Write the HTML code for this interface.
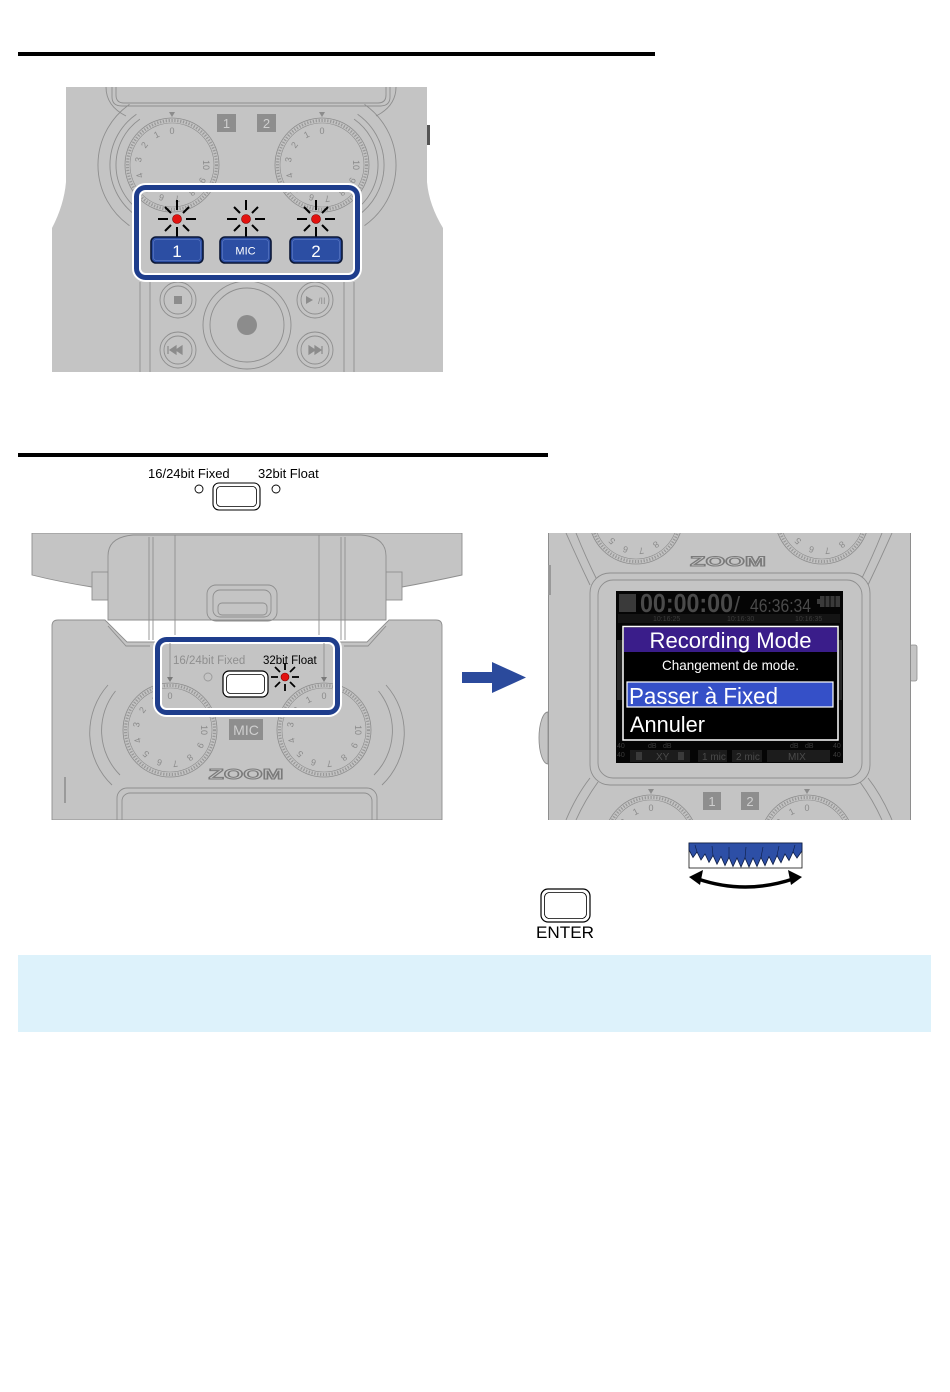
<!DOCTYPE html>
<html><head><meta charset="utf-8"><style>
html,body{margin:0;padding:0;background:#fff;}
svg{display:block;}
text{font-family:"Liberation Sans",Arial,sans-serif;}
</style></head><body>
<svg width="950" height="1392" viewBox="0 0 950 1392" xmlns="http://www.w3.org/2000/svg">
<defs>
<clipPath id="c1"><rect x="40" y="87" width="420" height="285"/></clipPath>
<clipPath id="c2"><rect x="30" y="533" width="440" height="287"/></clipPath>
<clipPath id="c3"><rect x="548" y="533" width="363" height="287"/></clipPath>
</defs>
<rect width="950" height="1392" fill="#fff"/>
<rect x="18" y="52" width="637" height="4" fill="#000"/>

<!-- ===== DEVICE 1 ===== -->
<g clip-path="url(#c1)">
<path d="M66,87 H427 V182 Q429,205 443,228 V372 H52 V228 Q64,205 66,182 Z" fill="#c4c4c4"/>
<g fill="none" stroke="#8e8e8e" stroke-width="0.9">
<path d="M116,87 V95 Q116,103 124,103 H378 Q386,103 386,95 V87"/>
<path d="M112,87 V97 Q112,106 122,106 H380 Q390,106 390,97 V87"/>
<path d="M106,87 Q106,106 126,116"/>
<path d="M396,87 Q396,106 376,116"/>
<path d="M139.9,119.1 A56,56 0 0 0 139.9,210.9"/>
<path d="M136.4,114.2 A62,62 0 0 0 136.4,215.8"/>
<path d="M129.5,104.4 A74,74 0 0 0 129.5,225.6"/>
<path d="M354.1,119.1 A56,56 0 0 1 354.1,210.9"/>
<path d="M357.6,114.2 A62,62 0 0 1 357.6,215.8"/>
<path d="M364.5,104.4 A74,74 0 0 1 364.5,225.6"/>
<line x1="140" y1="282" x2="140" y2="372"/>
<line x1="354" y1="282" x2="354" y2="372"/>
<line x1="150" y1="282" x2="150" y2="372"/>
<line x1="344" y1="282" x2="344" y2="372"/>
</g>
<rect x="427" y="125" width="3" height="20" fill="#555"/>
<!-- ch buttons -->
<rect x="217" y="114" width="19" height="18" fill="#8e8e8e"/>
<text x="226.5" y="128" font-size="13" fill="#cfcfcf" text-anchor="middle">1</text>
<rect x="257" y="114" width="19" height="18" fill="#8e8e8e"/>
<text x="266.5" y="128" font-size="13" fill="#cfcfcf" text-anchor="middle">2</text>

<!-- knobs -->
<g transform="translate(172,165)">
 <circle r="47" fill="#c4c4c4" stroke="#8c8c8c" stroke-width="0.8"/>
 <circle r="44.5" fill="none" stroke="#9a9a9a" stroke-width="3" stroke-dasharray="1.3 1.6"/>
 <circle r="42" fill="#c4c4c4" stroke="#8c8c8c" stroke-width="0.6"/>
 <path d="M-3,-53 H3 L0,-48Z" fill="#8c8c8c"/>
 <g font-size="9" fill="#8a8a8a" text-anchor="middle">
  <text transform="translate(0,-34)" dy="3">0</text>
  <text transform="translate(-15.4,-30.3) rotate(-27)" dy="3">1</text>
  <text transform="translate(-27.5,-20) rotate(-54)" dy="3">2</text>
  <text transform="translate(-33.6,-5.3) rotate(-81)" dy="3">3</text>
  <text transform="translate(-32.3,10.5) rotate(-108)" dy="3">4</text>
  <text transform="translate(-24,24) rotate(-135)" dy="3">5</text>
  <text transform="translate(-10.5,32.3) rotate(-162)" dy="3">6</text>
  <text transform="translate(5.3,33.6) rotate(171)" dy="3">7</text>
  <text transform="translate(20,27.5) rotate(144)" dy="3">8</text>
  <text transform="translate(30.3,15.4) rotate(117)" dy="3">9</text>
  <text transform="translate(34,0) rotate(90)" dy="3">10</text>
 </g>
</g>
<g transform="translate(322,165)">
 <circle r="47" fill="#c4c4c4" stroke="#8c8c8c" stroke-width="0.8"/>
 <circle r="44.5" fill="none" stroke="#9a9a9a" stroke-width="3" stroke-dasharray="1.3 1.6"/>
 <circle r="42" fill="#c4c4c4" stroke="#8c8c8c" stroke-width="0.6"/>
 <path d="M-3,-53 H3 L0,-48Z" fill="#8c8c8c"/>
 <g font-size="9" fill="#8a8a8a" text-anchor="middle">
  <text transform="translate(0,-34)" dy="3">0</text>
  <text transform="translate(-15.4,-30.3) rotate(-27)" dy="3">1</text>
  <text transform="translate(-27.5,-20) rotate(-54)" dy="3">2</text>
  <text transform="translate(-33.6,-5.3) rotate(-81)" dy="3">3</text>
  <text transform="translate(-32.3,10.5) rotate(-108)" dy="3">4</text>
  <text transform="translate(-24,24) rotate(-135)" dy="3">5</text>
  <text transform="translate(-10.5,32.3) rotate(-162)" dy="3">6</text>
  <text transform="translate(5.3,33.6) rotate(171)" dy="3">7</text>
  <text transform="translate(20,27.5) rotate(144)" dy="3">8</text>
  <text transform="translate(30.3,15.4) rotate(117)" dy="3">9</text>
  <text transform="translate(34,0) rotate(90)" dy="3">10</text>
 </g>
</g>

<!-- transport -->
<g fill="none" stroke="#8e8e8e" stroke-width="0.9">
<circle cx="247" cy="325" r="44"/>
<circle cx="247" cy="325" r="37"/>
<circle cx="178" cy="300" r="18"/><circle cx="178" cy="300" r="14"/>
<circle cx="315" cy="300" r="18"/><circle cx="315" cy="300" r="14"/>
<circle cx="178" cy="350" r="18"/><circle cx="178" cy="350" r="14"/>
<circle cx="315" cy="350" r="18"/><circle cx="315" cy="350" r="14"/>
</g>
<circle cx="247" cy="325" r="10" fill="#8c8c8c"/>
<rect x="174" y="296" width="8" height="8" fill="#8c8c8c"/>
<path d="M306,296 L313,300 L306,304Z" fill="#8c8c8c"/>
<text x="318" y="304" font-size="9" fill="#8c8c8c">/II</text>
<path d="M168,346 V354 M170,350 L176,346 V354Z M176,350 L182,346 V354Z" fill="#8c8c8c" stroke="#8c8c8c" stroke-width="1.2"/>
<path d="M309,346 L315,350 L309,354Z M315,346 L321,350 L315,354Z M322,346 V354" fill="#8c8c8c" stroke="#8c8c8c" stroke-width="1.2"/>
</g>

<!-- highlight box 1 -->
<rect x="136.5" y="187.5" width="221" height="90" rx="9" fill="none" stroke="#fff" stroke-width="9"/>
<rect x="136.5" y="187.5" width="221" height="90" rx="9" fill="none" stroke="#1e3d8c" stroke-width="5"/>
<g stroke="#000" stroke-width="2">
 <g transform="translate(177,219)">
  <line x1="0" y1="-9" x2="0" y2="-19"/><line x1="9" y1="0" x2="19" y2="0"/><line x1="-9" y1="0" x2="-19" y2="0"/>
  <line x1="0" y1="8" x2="0" y2="18"/>
  <line x1="6" y1="-6" x2="12" y2="-12"/><line x1="-6" y1="-6" x2="-12" y2="-12"/>
  <line x1="6" y1="6" x2="12" y2="12"/><line x1="-6" y1="6" x2="-12" y2="12"/>
 </g>
 <g transform="translate(246,219)">
  <line x1="0" y1="-9" x2="0" y2="-19"/><line x1="9" y1="0" x2="19" y2="0"/><line x1="-9" y1="0" x2="-19" y2="0"/>
  <line x1="0" y1="8" x2="0" y2="18"/>
  <line x1="6" y1="-6" x2="12" y2="-12"/><line x1="-6" y1="-6" x2="-12" y2="-12"/>
  <line x1="6" y1="6" x2="12" y2="12"/><line x1="-6" y1="6" x2="-12" y2="12"/>
 </g>
 <g transform="translate(316,219)">
  <line x1="0" y1="-9" x2="0" y2="-19"/><line x1="9" y1="0" x2="19" y2="0"/><line x1="-9" y1="0" x2="-19" y2="0"/>
  <line x1="0" y1="8" x2="0" y2="18"/>
  <line x1="6" y1="-6" x2="12" y2="-12"/><line x1="-6" y1="-6" x2="-12" y2="-12"/>
  <line x1="6" y1="6" x2="12" y2="12"/><line x1="-6" y1="6" x2="-12" y2="12"/>
 </g>
</g>
<g fill="#e3120f" stroke="#7a0000" stroke-width="0.6">
<circle cx="177" cy="219" r="4.5"/><circle cx="246" cy="219" r="4.5"/><circle cx="316" cy="219" r="4.5"/>
</g>
<g fill="#2c4ea3" stroke="#0b1736" stroke-width="1.6">
<rect x="151" y="237" width="52" height="26" rx="5"/>
<rect x="220" y="237" width="51" height="26" rx="5"/>
<rect x="290" y="237" width="52" height="26" rx="5"/>
</g>
<g fill="none" stroke="#5a78c4" stroke-width="0.7">
<rect x="153.5" y="239.5" width="47" height="21" rx="3"/>
<rect x="222.5" y="239.5" width="46" height="21" rx="3"/>
<rect x="292.5" y="239.5" width="47" height="21" rx="3"/>
</g>
<text x="177" y="257" font-size="17" fill="#fff" text-anchor="middle">1</text>
<text x="245.5" y="254.5" font-size="11" fill="#fff" text-anchor="middle">MIC</text>
<text x="316" y="257" font-size="17" fill="#fff" text-anchor="middle">2</text>

<!-- ===== SECTION 2 ===== -->
<rect x="18" y="453" width="530" height="4" fill="#000"/>
<text x="148" y="478" font-size="13" fill="#000">16/24bit Fixed</text>
<text x="258" y="478" font-size="13" fill="#000">32bit Float</text>
<circle cx="199" cy="489" r="4" fill="#fff" stroke="#000" stroke-width="0.9"/>
<circle cx="276" cy="489" r="4" fill="#fff" stroke="#000" stroke-width="0.9"/>
<rect x="213" y="483" width="47" height="27" rx="6" fill="#fff" stroke="#000" stroke-width="1.1"/>
<rect x="216.5" y="486.5" width="40" height="20" rx="4" fill="#fff" stroke="#000" stroke-width="0.8"/>

<!-- left device 2 -->
<g clip-path="url(#c2)">
<g fill="#c4c4c4" stroke="#8e8e8e" stroke-width="0.9">
<path d="M32,533 H462 V575 Q430,582 402,587 L92,587 Q60,582 32,575 Z"/>
<rect x="92" y="572" width="16" height="28"/>
<rect x="386" y="572" width="16" height="28"/>
<path d="M108,620 V556 Q108,537 133,535 H361 Q386,537 386,556 V620 Z"/>
<path d="M52,820 V626 Q52,620 58,620 H105 L127,642 H367 L389,620 H436 Q442,620 442,626 V820 Z"/>
</g>
<g fill="none" stroke="#8e8e8e" stroke-width="0.9">
<line x1="149" y1="537" x2="149" y2="640"/><line x1="153" y1="537" x2="153" y2="640"/>
<line x1="175" y1="535" x2="175" y2="640"/>
<line x1="345" y1="537" x2="345" y2="640"/><line x1="341" y1="537" x2="341" y2="640"/>
<line x1="319" y1="535" x2="319" y2="640"/>
<path d="M108,626 L126,646 H150"/>
<path d="M386,626 L368,646 H344"/>
<rect x="207" y="585" width="70" height="36" rx="9"/>
<rect x="213" y="590" width="58" height="27" rx="7"/>
<rect x="218" y="603" width="49" height="12" rx="4"/>
<path d="M115.5,691 A63,63 0 0 0 120,775"/>
<path d="M108,685 A72,72 0 0 0 112,785"/>
<path d="M378.5,691 A63,63 0 0 1 374,775"/>
<path d="M386,685 A72,72 0 0 1 382,785"/>
<rect x="117" y="788" width="260" height="50" rx="10"/>
<rect x="122" y="793" width="250" height="45" rx="8"/>
<line x1="65" y1="777" x2="65" y2="803" stroke="#666"/>
</g>
<g transform="translate(170,730)">
 <circle r="47" fill="#c4c4c4" stroke="#8c8c8c" stroke-width="0.8"/>
 <circle r="44.5" fill="none" stroke="#9a9a9a" stroke-width="3" stroke-dasharray="1.3 1.6"/>
 <circle r="42" fill="#c4c4c4" stroke="#8c8c8c" stroke-width="0.6"/>
 <g font-size="9" fill="#8a8a8a" text-anchor="middle">
  <text transform="translate(0,-34)" dy="3">0</text>
  <text transform="translate(-15.4,-30.3) rotate(-27)" dy="3">1</text>
  <text transform="translate(-27.5,-20) rotate(-54)" dy="3">2</text>
  <text transform="translate(-33.6,-5.3) rotate(-81)" dy="3">3</text>
  <text transform="translate(-32.3,10.5) rotate(-108)" dy="3">4</text>
  <text transform="translate(-24,24) rotate(-135)" dy="3">5</text>
  <text transform="translate(-10.5,32.3) rotate(-162)" dy="3">6</text>
  <text transform="translate(5.3,33.6) rotate(171)" dy="3">7</text>
  <text transform="translate(20,27.5) rotate(144)" dy="3">8</text>
  <text transform="translate(30.3,15.4) rotate(117)" dy="3">9</text>
  <text transform="translate(34,0) rotate(90)" dy="3">10</text>
 </g>
</g>
<g transform="translate(324,730)">
 <circle r="47" fill="#c4c4c4" stroke="#8c8c8c" stroke-width="0.8"/>
 <circle r="44.5" fill="none" stroke="#9a9a9a" stroke-width="3" stroke-dasharray="1.3 1.6"/>
 <circle r="42" fill="#c4c4c4" stroke="#8c8c8c" stroke-width="0.6"/>
 <g font-size="9" fill="#8a8a8a" text-anchor="middle">
  <text transform="translate(0,-34)" dy="3">0</text>
  <text transform="translate(-15.4,-30.3) rotate(-27)" dy="3">1</text>
  <text transform="translate(-27.5,-20) rotate(-54)" dy="3">2</text>
  <text transform="translate(-33.6,-5.3) rotate(-81)" dy="3">3</text>
  <text transform="translate(-32.3,10.5) rotate(-108)" dy="3">4</text>
  <text transform="translate(-24,24) rotate(-135)" dy="3">5</text>
  <text transform="translate(-10.5,32.3) rotate(-162)" dy="3">6</text>
  <text transform="translate(5.3,33.6) rotate(171)" dy="3">7</text>
  <text transform="translate(20,27.5) rotate(144)" dy="3">8</text>
  <text transform="translate(30.3,15.4) rotate(117)" dy="3">9</text>
  <text transform="translate(34,0) rotate(90)" dy="3">10</text>
 </g>
</g>
<rect x="229" y="719" width="34" height="21" fill="#8e8e8e"/>
<text x="246" y="735" font-size="14" fill="#cfcfcf" text-anchor="middle">MIC</text>
<text x="246" y="779" font-size="15" font-weight="bold" fill="#c4c4c4" stroke="#7a7a7a" stroke-width="1" text-anchor="middle" textLength="75" lengthAdjust="spacingAndGlyphs">ZOOM</text>
</g>

<!-- box 2 -->
<rect x="157.5" y="639.5" width="180" height="73" rx="9" fill="none" stroke="#fff" stroke-width="9"/>
<rect x="157.5" y="639.5" width="180" height="73" rx="9" fill="none" stroke="#1e3d8c" stroke-width="5"/>
<g stroke="#8e8e8e" stroke-width="0.9"><line x1="170" y1="643" x2="170" y2="678"/><line x1="324" y1="643" x2="324" y2="678"/></g>
<path d="M167,677 H173 L170,682Z M321,677 H327 L324,682Z" fill="#7a7a7a"/>
<text x="173" y="664" font-size="11.5" fill="#8f8f8f">16/24bit Fixed</text>
<text x="263" y="664" font-size="11.5" fill="#000">32bit Float</text>
<circle cx="208" cy="677" r="4" fill="none" stroke="#9a9a9a" stroke-width="0.9"/>
<rect x="223" y="671" width="45" height="26" rx="6" fill="#fff" stroke="#000" stroke-width="1.2"/>
<rect x="226.5" y="674.5" width="38" height="19" rx="4" fill="#fff" stroke="#000" stroke-width="0.8"/>
<g transform="translate(285,677)" stroke="#000" stroke-width="1.8">
  <line x1="0" y1="-7" x2="0" y2="-14"/><line x1="7" y1="0" x2="14" y2="0"/><line x1="-7" y1="0" x2="-14" y2="0"/>
  <line x1="0" y1="7" x2="0" y2="14"/>
  <line x1="5" y1="-5" x2="10" y2="-10"/><line x1="-5" y1="-5" x2="-10" y2="-10"/>
  <line x1="5" y1="5" x2="10" y2="10"/><line x1="-5" y1="5" x2="-10" y2="10"/>
  <circle r="4" fill="#e3120f" stroke="#7a0000" stroke-width="0.6"/>
</g>

<!-- arrow -->
<path d="M462,672 H492 V662 L526,677.5 L492,693 V683 H462 Z" fill="#2b4a9c"/>

<!-- right device -->
<path d="M548,712 A9,26 0 0 0 548,764 Z" fill="#c4c4c4" stroke="#8e8e8e" stroke-width="0.9"/>
<rect x="910" y="645" width="7" height="36" rx="2" fill="#c4c4c4" stroke="#8e8e8e" stroke-width="0.8"/>
<g clip-path="url(#c3)">
<rect x="548" y="533" width="363" height="287" fill="#c4c4c4"/>
<line x1="910.5" y1="533" x2="910.5" y2="820" stroke="#8e8e8e"/>
<line x1="548.5" y1="533" x2="548.5" y2="820" stroke="#8e8e8e"/>
<rect x="548" y="565" width="3" height="30" fill="#999"/>
<g transform="translate(636,517)">
 <circle r="47" fill="#c4c4c4" stroke="#8c8c8c" stroke-width="0.8"/>
 <circle r="44.5" fill="none" stroke="#9a9a9a" stroke-width="3" stroke-dasharray="1.3 1.6"/>
 <circle r="42" fill="#c4c4c4" stroke="#8c8c8c" stroke-width="0.6"/>
 <g font-size="9" fill="#8a8a8a" text-anchor="middle">
  <text transform="translate(-24,24) rotate(-135)" dy="3">5</text>
  <text transform="translate(-10.5,32.3) rotate(-162)" dy="3">6</text>
  <text transform="translate(5.3,33.6) rotate(171)" dy="3">7</text>
  <text transform="translate(20,27.5) rotate(144)" dy="3">8</text>
 </g>
</g>
<g transform="translate(822,517)">
 <circle r="47" fill="#c4c4c4" stroke="#8c8c8c" stroke-width="0.8"/>
 <circle r="44.5" fill="none" stroke="#9a9a9a" stroke-width="3" stroke-dasharray="1.3 1.6"/>
 <circle r="42" fill="#c4c4c4" stroke="#8c8c8c" stroke-width="0.6"/>
 <g font-size="9" fill="#8a8a8a" text-anchor="middle">
  <text transform="translate(-24,24) rotate(-135)" dy="3">5</text>
  <text transform="translate(-10.5,32.3) rotate(-162)" dy="3">6</text>
  <text transform="translate(5.3,33.6) rotate(171)" dy="3">7</text>
  <text transform="translate(20,27.5) rotate(144)" dy="3">8</text>
 </g>
</g>
<g transform="translate(651,842)">
 <circle r="47" fill="#c4c4c4" stroke="#8c8c8c" stroke-width="0.8"/>
 <circle r="44.5" fill="none" stroke="#9a9a9a" stroke-width="3" stroke-dasharray="1.3 1.6"/>
 <circle r="42" fill="#c4c4c4" stroke="#8c8c8c" stroke-width="0.6"/>
 <path d="M-3,-53 H3 L0,-48Z" fill="#8c8c8c"/>
 <g font-size="9" fill="#8a8a8a" text-anchor="middle">
  <text transform="translate(0,-34)" dy="3">0</text>
  <text transform="translate(-15.4,-30.3) rotate(-27)" dy="3">1</text>
  <text transform="translate(-27.5,-20) rotate(-54)" dy="3">2</text>
 </g>
</g>
<g transform="translate(807,842)">
 <circle r="47" fill="#c4c4c4" stroke="#8c8c8c" stroke-width="0.8"/>
 <circle r="44.5" fill="none" stroke="#9a9a9a" stroke-width="3" stroke-dasharray="1.3 1.6"/>
 <circle r="42" fill="#c4c4c4" stroke="#8c8c8c" stroke-width="0.6"/>
 <path d="M-3,-53 H3 L0,-48Z" fill="#8c8c8c"/>
 <g font-size="9" fill="#8a8a8a" text-anchor="middle">
  <text transform="translate(0,-34)" dy="3">0</text>
  <text transform="translate(-15.4,-30.3) rotate(-27)" dy="3">1</text>
  <text transform="translate(-27.5,-20) rotate(-54)" dy="3">2</text>
 </g>
</g>
<g fill="none" stroke="#8e8e8e" stroke-width="0.9">
<path d="M590,585 Q578,560 566,533"/><path d="M598,582 Q586,558 576,533"/>
<path d="M868,585 Q880,560 892,533"/><path d="M860,582 Q872,558 882,533"/>
<path d="M590,778 Q576,796 566,820"/><path d="M598,782 Q585,800 576,820"/>
<path d="M868,778 Q882,796 892,820"/><path d="M860,782 Q873,800 882,820"/>
</g>
<text x="728" y="566" font-size="14" font-weight="bold" fill="#c4c4c4" stroke="#7a7a7a" stroke-width="1" text-anchor="middle" textLength="76" lengthAdjust="spacingAndGlyphs">ZOOM</text>
<rect x="590" y="573" width="280" height="212" rx="20" fill="#c4c4c4" stroke="#8e8e8e" stroke-width="0.9"/>
<rect x="598" y="580" width="264" height="198" rx="15" fill="#c4c4c4" stroke="#8e8e8e" stroke-width="0.9"/>
<rect x="703" y="792" width="18" height="18" fill="#8e8e8e"/>
<text x="712" y="806" font-size="13" fill="#cfcfcf" text-anchor="middle">1</text>
<rect x="741" y="792" width="18" height="18" fill="#8e8e8e"/>
<text x="750" y="806" font-size="13" fill="#cfcfcf" text-anchor="middle">2</text>
</g>

<!-- screen -->
<rect x="616" y="591" width="227" height="172" fill="#050505"/>
<rect x="619" y="594" width="17" height="18" fill="#3a3a3a"/>
<text x="640" y="612" font-size="26" font-weight="bold" fill="#4a4a4a" textLength="93" lengthAdjust="spacingAndGlyphs">00:00:00</text>
<text x="734" y="612" font-size="22" fill="#4a4a4a">/</text>
<text x="750" y="612" font-size="18" fill="#4a4a4a" textLength="61" lengthAdjust="spacingAndGlyphs">46:36:34</text>
<rect x="817" y="599" width="3" height="5" fill="#3a3a3a"/>
<rect x="820" y="596" width="20" height="11" fill="#3a3a3a"/>
<g stroke="#050505" stroke-width="1"><line x1="825" y1="596" x2="825" y2="607"/><line x1="830" y1="596" x2="830" y2="607"/><line x1="835" y1="596" x2="835" y2="607"/></g>
<rect x="618" y="614" width="222" height="9" fill="#141414"/>
<g font-size="7" fill="#3c3c3c">
<text x="653" y="621">10:16:25</text><text x="727" y="621">10:16:30</text><text x="795" y="621">10:16:35</text>
</g>
<rect x="617" y="640" width="6" height="60" fill="#262626"/>
<rect x="838" y="640" width="4" height="60" fill="#262626"/>
<!-- meter row -->
<g font-size="7" fill="#3c3c3c">
<text x="617" y="748">40</text><text x="617" y="757">40</text><text x="833" y="748">40</text><text x="833" y="757">40</text>
<text x="648" y="748">dB</text><text x="663" y="748">dB</text><text x="790" y="748">dB</text><text x="805" y="748">dB</text>
</g>
<rect x="630" y="750" width="60" height="12" fill="#1c1c1c"/>
<rect x="698" y="750" width="29" height="12" fill="#1c1c1c"/>
<rect x="732" y="750" width="30" height="12" fill="#1c1c1c"/>
<rect x="767" y="750" width="63" height="12" fill="#1c1c1c"/>
<g font-size="10" fill="#4a4a4a">
<text x="656" y="760">XY</text><text x="702" y="760">1 mic</text><text x="736" y="760">2 mic</text><text x="788" y="760">MIX</text>
</g>
<rect x="636" y="752" width="6" height="8" fill="#3a3a3a"/><rect x="678" y="752" width="6" height="8" fill="#3a3a3a"/>
<!-- dialog -->
<rect x="623" y="626.5" width="215" height="113.5" fill="#000" stroke="#fff" stroke-width="1.5"/>
<rect x="624" y="627.5" width="213" height="24.5" fill="#3a1d8a"/>
<text x="730.5" y="648" font-size="22" fill="#fff" text-anchor="middle" textLength="162" lengthAdjust="spacingAndGlyphs">Recording Mode</text>
<text x="730.5" y="670" font-size="14" fill="#fff" text-anchor="middle" textLength="137" lengthAdjust="spacingAndGlyphs">Changement de mode.</text>
<rect x="627" y="682" width="206" height="25" fill="#3550c8" stroke="#fff" stroke-width="1.2"/>
<text x="629" y="704" font-size="23" fill="#fff" textLength="149" lengthAdjust="spacingAndGlyphs">Passer à Fixed</text>
<text x="630" y="732" font-size="22" fill="#fff" textLength="75" lengthAdjust="spacingAndGlyphs">Annuler</text>

<!-- wheel -->
<rect x="689" y="843" width="113" height="25" fill="#fff" stroke="#111" stroke-width="0.8"/>
<path d="M689,843 H802 V851 L797,858 L793,852 L789,860.5 L785,854 L781,862.7 L777,855.5 L773,864.4 L769,856.6 L765,865.7 L761,857.4 L757,866.5 L753,858 L749,867 L745,858 L741,867 L737,858 L733,866.5 L729,857.3 L725,865.5 L721,856.5 L717,864.2 L713,855.4 L709,862.4 L705,854 L701,860 L697,852 L693,857.5 L689,850 Z" fill="#2d4fa6" stroke="#0e1d44" stroke-width="0.8"/>
<g stroke="#0e1d44" stroke-width="0.6">
<line x1="793" y1="852" x2="795" y2="845"/><line x1="777" y1="855.5" x2="779" y2="846"/><line x1="761" y1="857.4" x2="763" y2="847"/><line x1="745" y1="858" x2="746" y2="847"/><line x1="729" y1="857.3" x2="729" y2="847"/><line x1="713" y1="855.4" x2="712" y2="846"/><line x1="697" y1="852" x2="695" y2="845"/>
</g>
<path d="M698,879 Q745,895 793,879" fill="none" stroke="#000" stroke-width="3.5"/>
<path d="M689,877 L703,870 L700,885 Z" fill="#000"/>
<path d="M802,877 L788,870 L791,885 Z" fill="#000"/>

<!-- ENTER -->
<rect x="541" y="889" width="49" height="33" rx="7" fill="#fff" stroke="#000" stroke-width="1.2"/>
<rect x="544.5" y="892.5" width="42" height="26" rx="5" fill="#fff" stroke="#000" stroke-width="0.8"/>
<text x="565" y="938" font-size="17" fill="#000" text-anchor="middle" textLength="58" lengthAdjust="spacingAndGlyphs">ENTER</text>

<!-- info box -->
<rect x="18" y="955" width="913" height="77" fill="#ddf2fb"/>
</svg>
</body></html>
